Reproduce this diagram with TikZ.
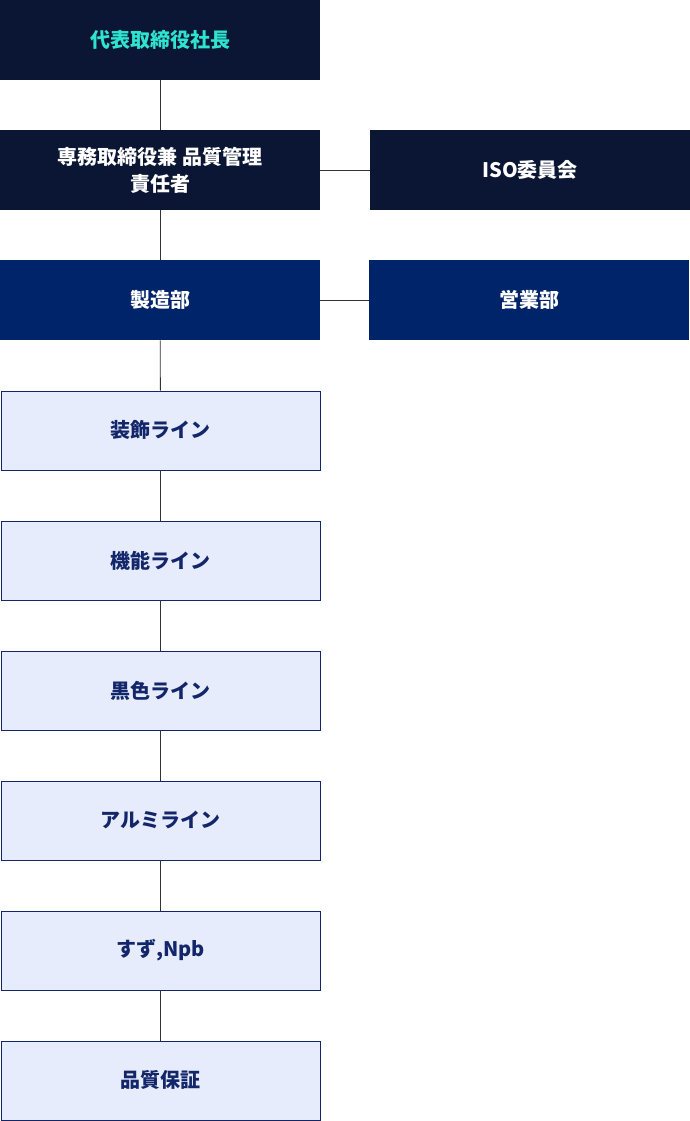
\documentclass[tikz,border=0pt]{standalone}
\usepackage{fontspec}
\setmainfont{Noto Sans CJK JP}
\definecolor{darkbox}{HTML}{0A1633}
\definecolor{navybox}{HTML}{00246A}
\definecolor{lightbox}{HTML}{E6ECFC}
\definecolor{navytext}{HTML}{13266A}
\definecolor{cyantext}{HTML}{2EE3D0}
\definecolor{linec}{HTML}{333333}
\begin{document}
\begin{tikzpicture}[x=1pt,y=-1pt,
  box/.style={minimum width=320pt,minimum height=80pt,inner sep=0pt,anchor=north west,font=\bfseries\fontsize{20}{27}\selectfont,align=center},
  dark/.style={box,fill=darkbox,text=white},
  navy/.style={box,fill=navybox,text=white},
  light/.style={box,fill=lightbox,draw=navytext,line width=0.8pt,text=navytext,minimum width=319pt,minimum height=79pt},
  conn/.style={draw=linec,line width=0.8pt}]
\useasboundingbox (0,0) rectangle (690,1121);
\node[dark,text=cyantext] (a) at (0,0) {代表取締役社長};
\node[dark] (b) at (0,130) {専務取締役兼 品質管理\\責任者};
\node[dark] (iso) at (370,130) {ISO委員会};
\node[navy] (c) at (0,260) {製造部};
\node[navy] (s) at (369,260) {営業部};
\node[light] (d1) at (0.5,390.5) {装飾ライン};
\node[light] (d2) at (0.5,520.5) {機能ライン};
\node[light] (d3) at (0.5,650.5) {黒色ライン};
\node[light] (d4) at (0.5,780.5) {アルミライン};
\node[light] (d5) at (0.5,910.5) {すず,Npb};
\node[light] (d6) at (0.5,1040.5) {品質保証};
\foreach \u/\v in {a/b,b/c,c/d1,d1/d2,d2/d3,d3/d4,d4/d5,d5/d6}
  \draw[conn] (\u.south) -- (\v.north);
\draw[conn] (b.east) -- (iso.west);
\draw[conn] (c.east) -- (s.west);
\end{tikzpicture}
\end{document}
